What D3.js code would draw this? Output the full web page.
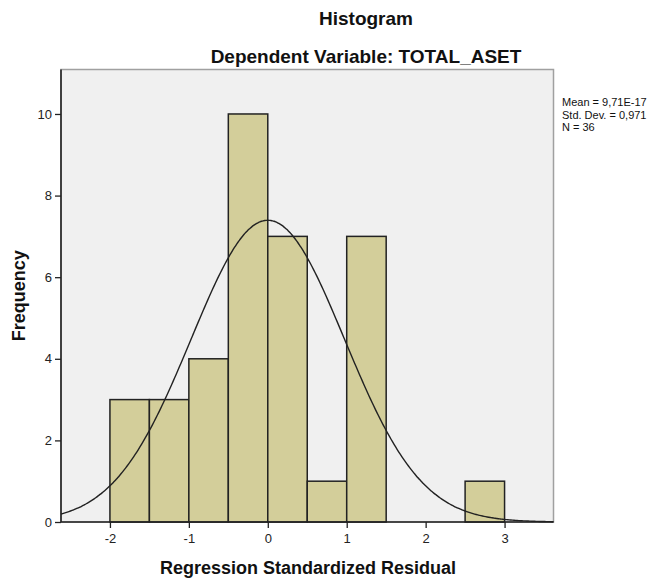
<!DOCTYPE html>
<html><head><meta charset="utf-8">
<script src="https://cdn.jsdelivr.net/npm/d3@7/dist/d3.min.js"></script>
<style>body{margin:0;background:#fff;} text{font-family:"Liberation Sans",Arial,sans-serif;}</style>
</head><body>
<svg id="c" width="663" height="579"></svg>
<script>
const binStarts = [-2, -1.5, -1, -0.5, 0, 0.5, 1, 1.5, 2, 2.5];
const binWidth = 0.5;
const frequencies = [3, 3, 4, 10, 7, 1, 7, 0, 0, 1];
const xTicks = [-2, -1, 0, 1, 2, 3];
const yTicks = [0, 2, 4, 6, 8, 10];
const statLines = ["Mean = 9,71E-17", "Std. Dev. = 0,971", "N = 36"];
const mean = 9.71e-17, sd = 0.971, N = 36;

const svg = d3.select("#c");
const L = 61, R = 553.5, T = 69.5, B = 522;
const x = d3.scaleLinear().domain([-2.62, 3.62]).range([L, R]);
const y = d3.scaleLinear().domain([0, 11.09]).range([B, T]);

svg.append("rect").attr("x", L).attr("y", T).attr("width", R - L).attr("height", B - T)
  .attr("fill", "#f0f0f0").attr("stroke", "#a0a0a0").attr("stroke-width", 1.5);

svg.selectAll("rect.bar").data(binStarts.map((s, i) => ({s, f: frequencies[i]})).filter(d => d.f > 0))
  .enter().append("rect").attr("class", "bar")
  .attr("x", d => x(d.s)).attr("width", d => x(d.s + binWidth) - x(d.s))
  .attr("y", d => y(d.f)).attr("height", d => B - y(d.f))
  .attr("fill", "#d3ce9a").attr("stroke", "#222").attr("stroke-width", 1.5);

// normal curve from reported stats
const pts = d3.range(-2.62, 3.62001, 0.02).map(v => [v, N * binWidth * Math.exp(-0.5 * ((v - mean) / sd) ** 2) / (sd * Math.sqrt(2 * Math.PI))]);
svg.append("path").datum(pts)
  .attr("d", d3.line().x(d => x(d[0])).y(d => y(d[1])).curve(d3.curveBasis))
  .attr("fill", "none").attr("stroke", "#222").attr("stroke-width", 1.4);

// axes
const fmt = d => String(d);
const xa = svg.append("g").attr("transform", `translate(0,${B})`)
  .call(d3.axisBottom(x).tickValues(xTicks).tickSize(6).tickPadding(6).tickFormat(fmt));
const ya = svg.append("g").attr("transform", `translate(${L},0)`)
  .call(d3.axisLeft(y).tickValues(yTicks).tickSize(6).tickPadding(3).tickFormat(fmt));
[xa, ya].forEach(g => {
  g.select(".domain").remove();
  g.selectAll("line").attr("stroke", "#222").attr("stroke-width", 1.3);
  g.selectAll("text").attr("font-size", 13).attr("fill", "#222").attr("font-family", "'Liberation Sans',Arial,sans-serif");
});
svg.append("line").attr("x1", L).attr("x2", L).attr("y1", T).attr("y2", B).attr("stroke", "#222").attr("stroke-width", 1.6);
svg.append("line").attr("x1", L).attr("x2", R).attr("y1", B).attr("y2", B).attr("stroke", "#222").attr("stroke-width", 1.6);

// titles
svg.append("text").attr("x", 366).attr("y", 25).attr("text-anchor", "middle")
  .attr("font-size", 19).attr("font-weight", "bold").attr("fill", "#111").text("Histogram");
svg.append("text").attr("x", 366).attr("y", 63).attr("text-anchor", "middle")
  .attr("font-size", 19).attr("font-weight", "bold").attr("fill", "#111").text("Dependent Variable: TOTAL_ASET");
svg.append("text").attr("x", 308).attr("y", 574).attr("text-anchor", "middle")
  .attr("font-size", 18).attr("font-weight", "bold").attr("fill", "#111").text("Regression Standardized Residual");
svg.append("text").attr("transform", `translate(25,${(T + B) / 2}) rotate(-90)`).attr("text-anchor", "middle")
  .attr("font-size", 18).attr("font-weight", "bold").attr("fill", "#111").text("Frequency");

svg.selectAll("text.stat").data(statLines).enter().append("text").attr("class", "stat")
  .attr("x", 562).attr("y", (d, i) => 106 + i * 12.5).attr("font-size", 11).attr("fill", "#111").text(d => d);
</script>
</body></html>
